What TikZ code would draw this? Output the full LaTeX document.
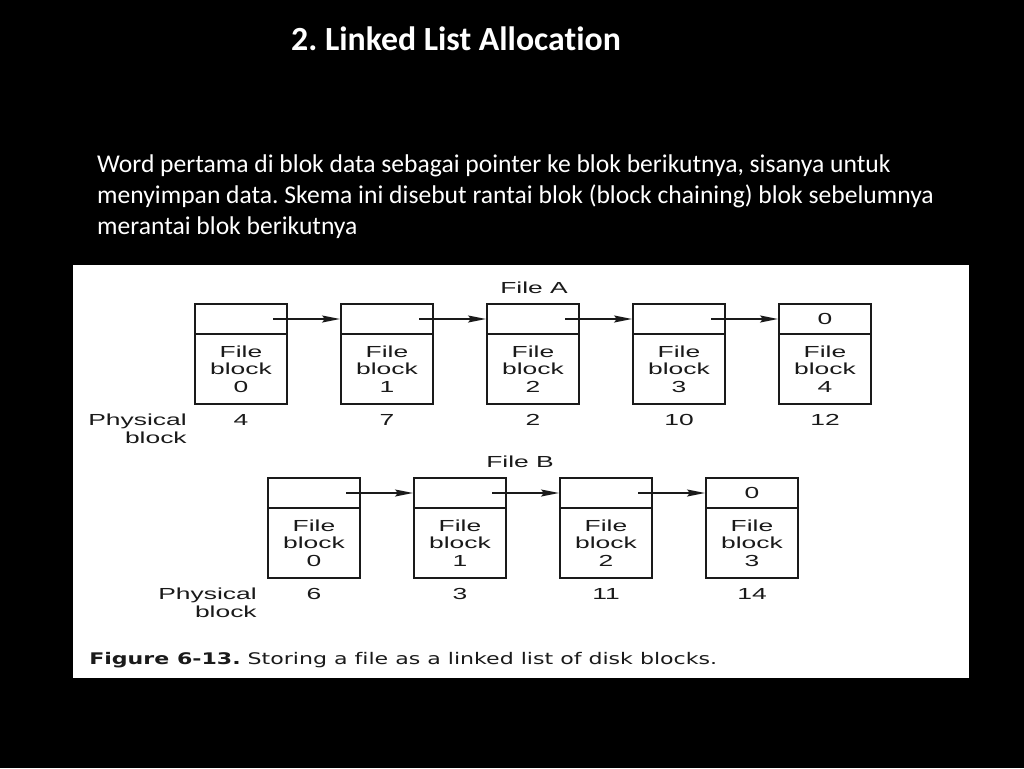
\documentclass[tikz,border=0pt]{standalone}
\usepackage{fontspec}
\setmainfont[Ligatures=NoCommon]{Carlito}
\newfontfamily\figfont{Liberation Sans}
\newfontfamily\capfont[Ligatures=NoCommon]{DejaVu Sans}
\usetikzlibrary{arrows.meta}
\definecolor{ink}{HTML}{1A1A1A}
\frenchspacing

\tikzset{
    slide/.style={text=white, inner sep=0pt, font=\fontsize{25.6}{31}\selectfont},
    ptr/.style={draw=ink, line width=2pt, minimum width=92pt, minimum height=30pt, inner sep=0pt},
    dat/.style={draw=ink, line width=2pt, minimum width=92pt, minimum height=70pt, inner sep=0pt},
    figtext/.style={text=ink, inner sep=0pt, align=center, xscale=1.65, font=\figfont\fontsize{16}{17.5}\selectfont},
    link/.style={draw=ink, line width=1.5pt, -{Stealth[length=18pt,width=7pt,inset=3pt]}}
}

\begin{document}
\begin{tikzpicture}[x=1pt,y=-1pt]

    % slide and figure panel
    \fill[black] (0,0) rectangle (1024,768);
    \useasboundingbox (0,0) rectangle (1024,768);
    \fill[white] (73,265) rectangle (969,678);

    % title and text
    \node[slide, anchor=base, font=\bfseries\fontsize{33.8}{40}\selectfont] (title) at (456,51) {2. Linked List Allocation};
    \node[slide, anchor=base west] (line1) at (97,172) {Word pertama di blok data sebagai pointer ke blok berikutnya, sisanya untuk};
    \node[slide, anchor=base west] (line2) at (97,203) {menyimpan data. Skema ini disebut rantai blok (block chaining) blok sebelumnya};
    \node[slide, anchor=base west] (line3) at (97,234) {merantai blok berikutnya};

    % file A
    \node[figtext] (fileA) at (534,288) {File A};
    \node[figtext, align=right, anchor=east] (physA) at (187,429) {Physical\\block};
    \foreach \i/\x/\p in {0/241/4, 1/387/7, 2/533/2, 3/679/10, 4/825/12} {
        \node[ptr] (pA\i) at (\x,319) {};
        \node[dat] (dA\i) at (\x,369) {};
        \node[figtext] (tA\i) at (\x,369) {File\\block\\\i};
        \node[figtext] (nA\i) at (\x,420) {\p};
    }
    \node[figtext] (endA) at (pA4) {0};
    \foreach \i/\j in {0/1, 1/2, 2/3, 3/4}
        \draw[link] ([xshift=-15pt]pA\i.east) -- (pA\j.west); % next block

    % file B
    \node[figtext] (fileB) at (520,462) {File B};
    \node[figtext, align=right, anchor=east] (physB) at (257,603) {Physical\\block};
    \foreach \i/\x/\p in {0/314/6, 1/460/3, 2/606/11, 3/752/14} {
        \node[ptr] (pB\i) at (\x,493) {};
        \node[dat] (dB\i) at (\x,543) {};
        \node[figtext] (tB\i) at (\x,543) {File\\block\\\i};
        \node[figtext] (nB\i) at (\x,594) {\p};
    }
    \node[figtext] (endB) at (pB3) {0};
    \foreach \i/\j in {0/1, 1/2, 2/3}
        \draw[link] ([xshift=-15pt]pB\i.east) -- (pB\j.west); % next block

    % caption
    \node[anchor=base west, inner sep=0pt, xscale=1.38, text=ink, font=\capfont\fontsize{16}{20}\selectfont] (caption) at (89,664) {\textbf{Figure 6-13.} Storing a file as a linked list of disk blocks.};

\end{tikzpicture}
\end{document}
